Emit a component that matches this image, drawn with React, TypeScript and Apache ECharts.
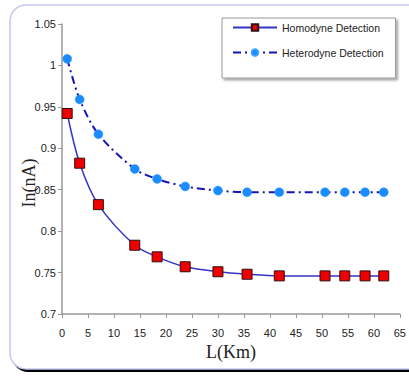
import React, { useEffect, useRef } from "react";
import * as echarts from "echarts";

const distances = [1, 3.4, 7, 14, 18.3, 23.7, 30, 35.6, 41.8, 50.6, 54.4, 58.3, 61.9];
const homodyne = [0.942, 0.882, 0.832, 0.783, 0.769, 0.757, 0.751, 0.748, 0.746, 0.746, 0.746, 0.746, 0.746];
const heterodyne = [1.008, 0.959, 0.917, 0.875, 0.863, 0.854, 0.849, 0.847, 0.847, 0.847, 0.847, 0.847, 0.847];
const seriesNames = ["Homodyne Detection", "Heterodyne Detection"];

export default function App() {
  const ref = useRef<HTMLDivElement>(null);
  useEffect(() => {
    document.body.style.margin = "0";
    const chart = echarts.init(ref.current!, null, { renderer: "svg" });
    const pairs = (ys: number[]) => distances.map((x, i) => [x, ys[i]]);
    chart.setOption({
      animation: false,
      backgroundColor: "#fff",
      graphic: [
        { type: "rect", z: -10, shape: { x: 12, y: 8, width: 420, height: 364, r: 16 }, style: { fill: "#000" } },
        { type: "rect", z: -9, shape: { x: 10, y: 5, width: 420, height: 364, r: 16 }, style: { fill: "#fff", stroke: "#c4c8f0", lineWidth: 1.5 } },
        {
          type: "text", x: 29, y: 183, rotation: Math.PI / 2,
          style: { text: "In(nA)", font: '18px "Liberation Serif"', fill: "#222", align: "center", verticalAlign: "middle" },
        },
      ],
      grid: { left: 62, right: 3, top: 24, bottom: 62 },
      legend: {
        orient: "vertical", left: 222, top: 18, itemWidth: 44, itemHeight: 8, itemGap: 14,
        padding: [4, 12, 20, 10], backgroundColor: "#fff", borderColor: "#999", borderWidth: 1,
        shadowColor: "rgba(0,0,0,0.35)", shadowOffsetX: 2, shadowOffsetY: 2, shadowBlur: 2,
        textStyle: { fontFamily: "Liberation Sans", fontSize: 10.5, color: "#222" },
        data: seriesNames,
      },
      xAxis: {
        type: "value", min: 0, max: 65, interval: 5,
        name: "L(Km)", nameLocation: "middle", nameGap: 29,
        nameTextStyle: { fontFamily: "Liberation Serif", fontSize: 18, color: "#222" },
        axisLine: { lineStyle: { color: "#999", width: 1.5 } },
        axisTick: { length: 4, lineStyle: { color: "#999" } },
        axisLabel: { fontFamily: "Liberation Sans", fontSize: 11, color: "#222", margin: 13 },
        splitLine: { show: false },
      },
      yAxis: {
        type: "value", min: 0.7, max: 1.05, interval: 0.05,
        axisLine: { show: true, lineStyle: { color: "#999", width: 1.5 } },
        axisTick: { show: true, length: 4, lineStyle: { color: "#999" } },
        axisLabel: { fontFamily: "Liberation Sans", fontSize: 11, color: "#222", margin: 6 },
        splitLine: { show: false },
      },
      series: [
        {
          name: seriesNames[0], type: "line", smooth: 0.3, data: pairs(homodyne),
          symbol: "rect", symbolSize: 10,
          lineStyle: { color: "#3535c5", width: 1.5 },
          itemStyle: { color: "#ee0000", borderColor: "#301010", borderWidth: 1 },
          z: 3,
        },
        {
          name: seriesNames[1], type: "line", smooth: 0.3, data: pairs(heterodyne),
          symbol: "circle", symbolSize: 9,
          lineStyle: { color: "#1515b5", width: 2, type: [8, 4, 2, 4] },
          itemStyle: { color: "#1a8cff", borderColor: "#3aa0ff", borderWidth: 0.5 },
          z: 2,
        },
      ],
    });
    return () => chart.dispose();
  }, []);
  return <div ref={ref} style={{ width: 409, height: 376 }} />;
}
